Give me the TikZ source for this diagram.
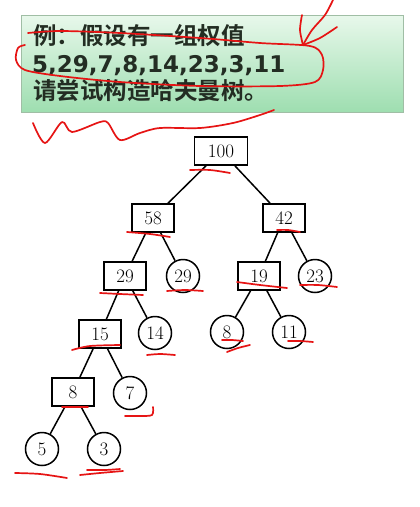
\documentclass[tikz,border=0pt]{standalone}
\usepackage{fontspec}
\newfontfamily\cjk{Noto Sans CJK SC}[BoldFont={* Bold}]
\newfontfamily\dvs{DejaVu Sans}
\usetikzlibrary{shadings}
\definecolor{txtc}{RGB}{35,45,35}
\definecolor{boxtop}{RGB}{232,248,235}
\definecolor{boxbot}{RGB}{158,222,176}
\definecolor{boxedge}{RGB}{160,190,165}
\definecolor{pen}{RGB}{230,20,20}
\begin{document}
\begin{tikzpicture}[x=1pt,y=-1pt,
  sq/.style={draw, line width=1.5pt, minimum width=42pt, minimum height=28pt, inner sep=0pt, font=\fontsize{19}{22}\selectfont},
  circ/.style={draw, circle, line width=1.5pt, minimum size=33pt, inner sep=0pt, font=\fontsize{19}{22}\selectfont},
  edge/.style={line width=1.5pt},
  ink/.style={pen, line width=1.7pt, line cap=round, line join=round},
  lbl/.style={anchor=base west, inner sep=0pt, text=txtc}]
\useasboundingbox (0,0) rectangle (420,507);
\fill[white] (0,0) rectangle (420,507);
% green box
\shade[top color=boxtop, bottom color=boxbot, draw=boxedge, line width=0.8pt] (21,15) rectangle (403,112);
\node[lbl, font=\cjk\bfseries\fontsize{23.5}{26}\selectfont] (t1) at (33,44) {例：假设有一组权值};
\node[lbl, font=\dvs\bfseries\fontsize{23}{26}\selectfont] (t2) at (32,72) {5,29,7,8,14,23,3,11};
\node[lbl, font=\cjk\bfseries\fontsize{23.5}{26}\selectfont] (t3) at (33,99) {请尝试构造哈夫曼树。};
% tree
\node[sq, minimum width=53pt] (n100) at (221,151) {100};
\node[sq] (n58) at (153,218) {58};
\node[sq] (n42) at (284,218) {42};
\node[sq] (n29a) at (125,276) {29};
\node[circ] (n29b) at (183,276) {29};
\node[sq] (n19) at (259,276) {19};
\node[circ] (n23) at (315,276) {23};
\node[sq] (n15) at (100,334) {15};
\node[circ] (n14) at (155,333) {14};
\node[circ] (n8c) at (227,332) {8};
\node[circ] (n11) at (289,332) {11};
\node[sq] (n8) at (73,392) {8};
\node[circ] (n7) at (130,393) {7};
\node[circ] (n5) at (42,449) {5};
\node[circ] (n3) at (104,449) {3};
\draw[edge] (n100) -- (n58);
\draw[edge] (n100) -- (n42);
\draw[edge] (n58) -- (n29a);
\draw[edge] (n58) -- (n29b);
\draw[edge] (n42) -- (n19);
\draw[edge] (n42) -- (n23);
\draw[edge] (n29a) -- (n15);
\draw[edge] (n29a) -- (n14);
\draw[edge] (n19) -- (n8c);
\draw[edge] (n19) -- (n11);
\draw[edge] (n15) -- (n8);
\draw[edge] (n15) -- (n7);
\draw[edge] (n8) -- (n5);
\draw[edge] (n8) -- (n3);
% red handwriting
\draw[ink] plot[smooth] coordinates {(28,33) (60,31) (120,33) (200,38) (260,43) (310,46) (322,55) (323,70) (315,82) (280,86) (200,86) (120,82) (60,76) (25,70) (16,60) (18,48) (25,45)};
\draw[ink] plot[smooth] coordinates {(333,0) (325,15) (312,30) (303,45)};
\draw[ink] plot[smooth] coordinates {(302,15) (300,30) (303,45)};
\draw[ink] plot[smooth] coordinates {(337,27) (320,38) (303,45)};
\draw[ink] plot[smooth] coordinates {(33,123) (45,143) (62,122) (72,132) (100,122) (108,123) (120,140) (140,133) (160,128) (200,128) (233,123) (260,115) (274,110)};
\draw[ink] plot[smooth] coordinates {(190,170) (210,170) (230,173)};
\draw[ink] plot[smooth] coordinates {(127,232) (150,234) (170,237)};
\draw[ink] plot[smooth] coordinates {(277,230) (288,230) (300,232)};
\draw[ink] plot[smooth] coordinates {(100,293) (120,294) (143,295)};
\draw[ink] plot[smooth] coordinates {(167,291) (185,290) (203,291)};
\draw[ink] plot[smooth] coordinates {(237,282) (260,285) (287,288)};
\draw[ink] plot[smooth] coordinates {(300,285) (318,285) (337,287)};
\draw[ink] plot[smooth] coordinates {(72,350) (90,346) (120,345)};
\draw[ink] plot[smooth] coordinates {(147,355) (160,354) (175,355)};
\draw[ink] plot[smooth] coordinates {(125,416) (140,416) (152,415) (153,407)};
\draw[ink] plot[smooth] coordinates {(62,407) (75,407) (88,407)};
\draw[ink] plot[smooth] coordinates {(15,473) (40,474) (67,478)};
\draw[ink] plot[smooth] coordinates {(80,475) (100,473) (123,471)};
\draw[ink] plot[smooth] coordinates {(87,470) (105,470) (120,469)};
\draw[ink] plot[smooth] coordinates {(222,340) (232,340) (243,341)};
\draw[ink] plot[smooth] coordinates {(227,352) (238,348) (250,345)};
\draw[ink] plot[smooth] coordinates {(288,341) (300,341) (313,342)};
\end{tikzpicture}
\end{document}
